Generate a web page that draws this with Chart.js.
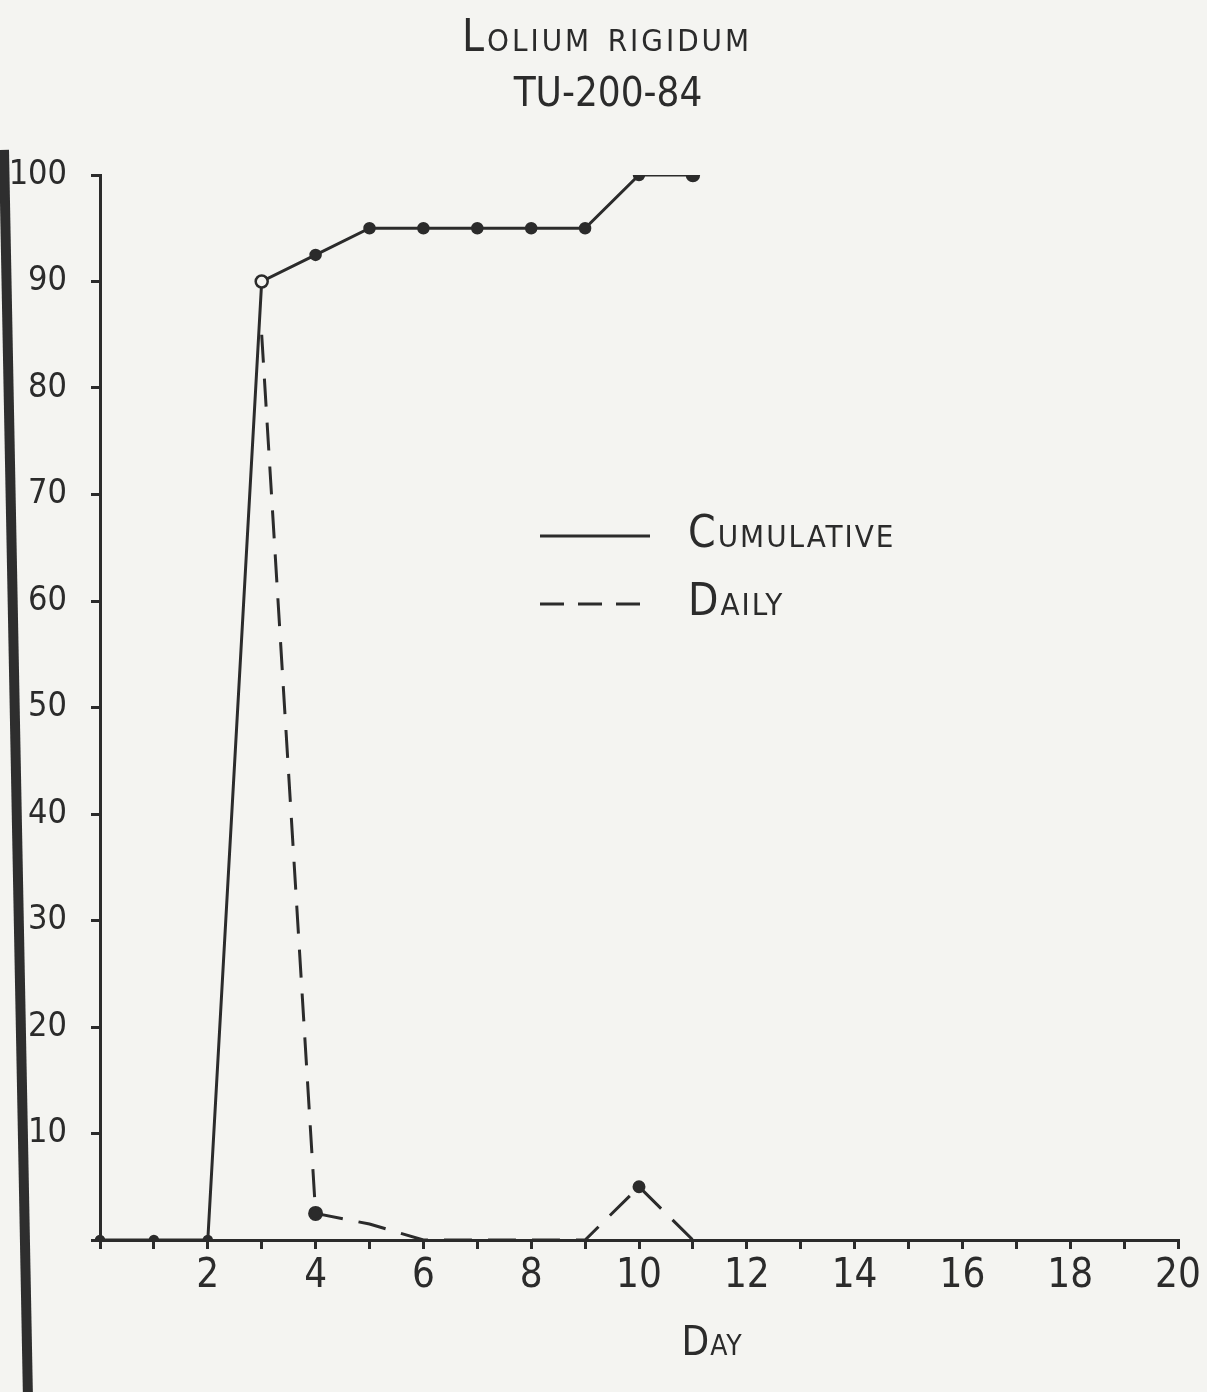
<!DOCTYPE html>
<html>
<head>
<meta charset="utf-8">
<title>Lolium rigidum TU-200-84</title>
<script src="https://cdn.jsdelivr.net/npm/chart.js@4.4.1/dist/chart.umd.min.js"></script>
<style>
  html, body { margin: 0; padding: 0; background: #f4f4f1; }
  #wrap { position: relative; width: 1207px; height: 1392px; overflow: hidden; }
  /* dark edge of the scanned page */
  #scan { position: absolute; left: -1px; top: 150px; width: 10px; height: 1280px; background: #2e2e2e; transform: rotate(-1.1deg); transform-origin: top left; }
  canvas { position: absolute; left: 0; top: 0; }
</style>
</head>
<body>
<div id="wrap">
  <div id="scan"></div>
  <canvas id="chart" width="1207" height="1392"></canvas>
</div>
<script>
// data
var days = [0, 1, 2, 3, 4, 5, 6, 7, 8, 9, 10, 11, 12, 13, 14, 15, 16, 17, 18, 19, 20];
var cumulative = [0, 0, 0, 90, 92.5, 95, 95, 95, 95, 95, 100, 100, null, null, null, null, null, null, null, null, null];
var daily = [null, null, null, 85, 2.5, 1.5, 0, 0, 0, 0, 5, 0, null, null, null, null, null, null, null, null, null];
var xTickLabels = [2, 4, 6, 8, 10, 12, 14, 16, 18, 20];
var yTickLabels = [10, 20, 30, 40, 50, 60, 70, 80, 90, 100];
var titleLines = ['Lolium rigidum', 'TU-200-84'];

var ink = '#2b2b2b';
var paper = '#f4f4f1';
var fam = "'DejaVu Sans Condensed', sans-serif";

// title, legend and axis name lettered onto the plot like the original
var notes = {
  id: 'notes',
  afterDraw: function(chart) {
    var ctx = chart.ctx;
    var ca = chart.chartArea;
    ctx.save();
    ctx.strokeStyle = ink;
    ctx.fillStyle = ink;
    ctx.textBaseline = 'middle';

    ctx.textAlign = 'center';
    ctx.font = 'small-caps 44px ' + fam;
    ctx.letterSpacing = '3px';
    ctx.fillText(titleLines[0], 607, 40);
    ctx.font = '40px ' + fam;
    ctx.letterSpacing = '0px';
    ctx.fillText(titleLines[1], 608, 96);

    ctx.lineWidth = 3;
    ctx.textAlign = 'left';
    ctx.font = 'small-caps 44px ' + fam;
    ctx.letterSpacing = '2px';
    var x0 = ca.left + 440, x1 = ca.left + 550, tx = ca.left + 588;
    var y0 = 536, y1 = 604;
    ctx.beginPath(); ctx.moveTo(x0, y0); ctx.lineTo(x1, y0); ctx.stroke();
    ctx.fillText('Cumulative', tx, y0);
    ctx.setLineDash([24, 14]);
    ctx.beginPath(); ctx.moveTo(x0, y1); ctx.lineTo(x1, y1); ctx.stroke();
    ctx.setLineDash([]);
    ctx.fillText('Daily', tx, y1);

    ctx.textAlign = 'center';
    ctx.font = 'small-caps 40px ' + fam;
    ctx.letterSpacing = '1px';
    ctx.fillText('Day', 712, 1345);
    ctx.restore();
  }
};

new Chart(document.getElementById('chart'), {
  type: 'line',
  data: {
    labels: days,
    datasets: [
      {
        label: 'Cumulative',
        data: cumulative,
        borderColor: ink,
        borderWidth: 3,
        pointRadius: [4, 4, 4, 6, 5, 5, 5, 5, 5, 5, 5, 6],
        pointBackgroundColor: [ink, ink, ink, paper, ink, ink, ink, ink, ink, ink, ink, ink],
        pointBorderColor: ink,
        pointBorderWidth: 2.5,
        tension: 0
      },
      {
        label: 'Daily',
        data: daily,
        borderColor: ink,
        borderWidth: 3,
        borderDash: [28, 16],
        pointRadius: [0, 0, 0, 0, 6, 0, 0, 0, 0, 0, 5, 0],
        pointBackgroundColor: ink,
        pointBorderColor: ink,
        tension: 0
      }
    ]
  },
  plugins: [notes],
  options: {
    responsive: false,
    animation: false,
    layout: { padding: { left: 0, right: 29, top: 175, bottom: 0 } },
    plugins: {
      legend: { display: false },
      tooltip: { enabled: false },
      title: { display: false }
    },
    scales: {
      x: {
        type: 'category',
        offset: false,
        afterFit: function(s) { s.height = 1392 - 1240; },
        border: { display: true, color: ink, width: 3 },
        grid: { display: true, drawOnChartArea: false, drawTicks: true, tickLength: 9, color: ink, lineWidth: 3 },
        ticks: {
          color: ink,
          font: { family: fam, size: 40 },
          padding: 4,
          maxRotation: 0,
          autoSkip: false,
          callback: function(v, i) { return xTickLabels.indexOf(days[i]) >= 0 ? String(days[i]) : ''; }
        }
      },
      y: {
        min: 0,
        max: 100,
        afterFit: function(s) { s.width = 100; },
        border: { display: true, color: ink, width: 3 },
        grid: { display: true, drawOnChartArea: false, drawTicks: true, tickLength: 9, color: ink, lineWidth: 3 },
        ticks: {
          stepSize: 10,
          color: ink,
          font: { family: fam, size: 34 },
          padding: 24,
          callback: function(v) { return yTickLabels.indexOf(v) >= 0 ? String(v) : ''; }
        }
      }
    }
  }
});
</script>
</body>
</html>
